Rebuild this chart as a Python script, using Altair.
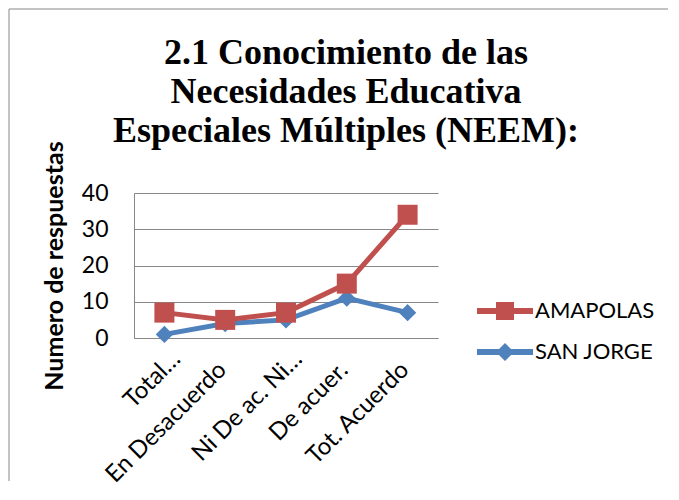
import altair as alt
import pandas as pd

categories = ["Total…", "En Desacuerdo", "Ni De ac. Ni…", "De acuer.", "Tot. Acuerdo"]
amapolas = [7, 5, 7, 15, 34]
san_jorge = [1, 4, 5, 11, 7]
series_names = ["AMAPOLAS", "SAN JORGE"]
series_colors = ["#C0504D", "#4F81BD"]
y_ticks = [0, 10, 20, 30, 40]

rows = []
for c, a in zip(categories, amapolas):
    rows.append({"cat": c, "val": a, "series": "AMAPOLAS"})
for c, s in zip(categories, san_jorge):
    rows.append({"cat": c, "val": s, "series": "SAN JORGE"})
df = pd.DataFrame(rows)

FONT = "Lato"
TITLE_FONT = "Times New Roman, Liberation Serif, serif"
GRAY = "#878787"

x_enc = alt.X(
    "cat:N",
    sort=categories,
    scale=alt.Scale(type="point", padding=0.5),
    axis=alt.Axis(
        title=None,
        labelAngle=-45,
        labelAlign="right",
        labelBaseline="middle",
        labelFont=FONT,
        labelFontSize=24,
        labelColor="black",
        labelLimit=300,
        labelPadding={"condition": {"test": "indexof(datum.label, '…') >= 0", "value": 17}, "value": 28},
        labelOffset={"condition": {"test": "indexof(datum.label, '…') >= 0", "value": 12}, "value": -3},
        ticks=False,
        grid=False,
        domainColor=GRAY,
        domainWidth=1,
    ),
)
y_enc = alt.Y(
    "val:Q",
    scale=alt.Scale(domain=[0, 40], nice=False),
    axis=alt.Axis(
        values=y_ticks,
        title="Numero de respuestas",
        titleFont=FONT,
        titleFontSize=25,
        titleFontWeight="bold",
        titleColor="black",
        titlePadding=14,
        labelFont=FONT,
        labelFontSize=23,
        labelColor="black",
        labelPadding=26,
        ticks=False,
        grid=True,
        gridColor=GRAY,
        gridWidth=1,
        domainColor=GRAY,
        domainWidth=1,
    ),
)

base = alt.Chart(df)

layers = []
one = pd.DataFrame({"k": [0]})
layers.append(
    alt.Chart(one).mark_rule(color=GRAY, strokeWidth=1).encode(
        x=alt.value(-125), y=alt.value(-184), y2=alt.value(288)
    )
)
layers.append(
    alt.Chart(one).mark_rule(color=GRAY, strokeWidth=1).encode(
        x=alt.value(-125), x2=alt.value(534), y=alt.value(-184)
    )
)

for name, color, shape, size in [
    ("SAN JORGE", series_colors[1], "diamond", 300),
    ("AMAPOLAS", series_colors[0], "square", 400),
]:
    sub = base.transform_filter(alt.datum.series == name)
    layers.append(sub.mark_line(color=color, strokeWidth=5).encode(x=x_enc, y=y_enc))
    layers.append(
        sub.mark_point(filled=True, color=color, shape=shape, size=size, opacity=1).encode(x=x_enc, y=y_enc)
    )

sq_path = "M-1.4,-0.15L1.4,-0.15L1.4,0.15L-1.4,0.15Z M-0.45,-0.45L0.45,-0.45L0.45,0.45L-0.45,0.45Z"
dm_path = "M-1.4,-0.15L1.4,-0.15L1.4,0.15L-1.4,0.15Z M0,-0.45L0.45,0L0,0.45L-0.45,0Z"

legend = alt.Legend(
    title=None,
    orient="none",
    legendX=351,
    legendY=98,
    padding=0,
    symbolSize=1600,
    symbolStrokeWidth=0,
    symbolOpacity=1,
    labelFont=FONT,
    labelFontSize=22,
    labelColor="black",
    labelOffset=10,
    rowPadding=10,
)
layers.append(
    base.mark_point(filled=True, opacity=0).encode(
        x=x_enc,
        y=y_enc,
        fill=alt.Fill("series:N", scale=alt.Scale(domain=series_names, range=series_colors), legend=legend),
        shape=alt.Shape("series:N", scale=alt.Scale(domain=series_names, range=[sq_path, dm_path]), legend=legend),
    )
)

chart = (
    alt.layer(*layers)
    .properties(
        width=304,
        height=145,
        padding=0,
        title=alt.TitleParams(
            text=["2.1 Conocimiento de las", "Necesidades Educativa", "Especiales Múltiples (NEEM):"],
            font=TITLE_FONT,
            fontSize=36,
            fontWeight="bold",
            color="black",
            anchor="middle",
            frame="group",
            dx=60,
            offset=-141,
            lineHeight=39,
            baseline="top",
        ),
    )
    .configure_view(stroke=None)
)

chart.save("out.html", embed_options={"renderer": "svg", "actions": False})
